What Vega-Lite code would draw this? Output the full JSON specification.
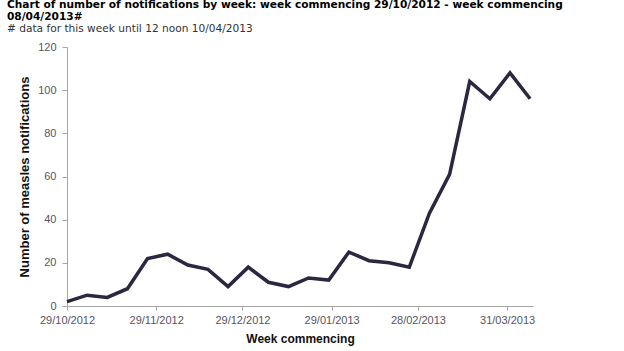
{
  "$schema": "https://vega.github.io/schema/vega-lite/v6.json",
  "autosize": "none",
  "width": 466,
  "height": 259,
  "padding": {"left": 67, "top": 47, "right": 91, "bottom": 45},
  "background": "white",
  "title": {
    "text": ["Chart of number of notifications by week: week commencing 29/10/2012 - week commencing", "08/04/2013#"],
    "subtitle": "# data for this week until 12 noon 10/04/2013",
    "anchor": "start",
    "frame": "group",
    "dx": -60,
    "dy": 2,
    "font": "DejaVu Sans",
    "fontSize": 10.6,
    "fontWeight": "bold",
    "color": "#000000",
    "lineHeight": 12,
    "subtitleFont": "DejaVu Sans",
    "subtitleFontSize": 10.6,
    "subtitleColor": "#333333",
    "subtitlePadding": 2,
    "offset": 8
  },
  "data": {
    "values": [
      {"week": "2012-10-29", "count": 2},
      {"week": "2012-11-05", "count": 5},
      {"week": "2012-11-12", "count": 4},
      {"week": "2012-11-19", "count": 8},
      {"week": "2012-11-26", "count": 22},
      {"week": "2012-12-03", "count": 24},
      {"week": "2012-12-10", "count": 19},
      {"week": "2012-12-17", "count": 17},
      {"week": "2012-12-24", "count": 9},
      {"week": "2012-12-31", "count": 18},
      {"week": "2013-01-07", "count": 11},
      {"week": "2013-01-14", "count": 9},
      {"week": "2013-01-21", "count": 13},
      {"week": "2013-01-28", "count": 12},
      {"week": "2013-02-04", "count": 25},
      {"week": "2013-02-11", "count": 21},
      {"week": "2013-02-18", "count": 20},
      {"week": "2013-02-25", "count": 18},
      {"week": "2013-03-04", "count": 43},
      {"week": "2013-03-11", "count": 61},
      {"week": "2013-03-18", "count": 104},
      {"week": "2013-03-25", "count": 96},
      {"week": "2013-04-01", "count": 108},
      {"week": "2013-04-08", "count": 96}
    ]
  },
  "mark": {"type": "line", "color": "#2d2640", "strokeWidth": 3.5, "strokeJoin": "miter", "clip": false},
  "encoding": {
    "x": {
      "field": "week",
      "type": "temporal",
      "scale": {"type": "utc", "domain": ["2012-10-29", "2013-04-09"]},
      "axis": {
        "title": "Week commencing",
        "values": ["2012-10-29", "2012-11-29", "2012-12-29", "2013-01-29", "2013-02-28", "2013-03-31"],
        "labelExpr": "utcFormat(datum.value, '%d/%m/%Y')",
        "grid": false,
        "domainColor": "#a6a6a6",
        "tickColor": "#a6a6a6",
        "tickSize": 4,
        "labelPadding": 4,
        "labelFont": "Liberation Sans",
        "labelFontSize": 11,
        "labelColor": "#57535f",
        "labelFlush": false,
        "labelOverlap": false,
        "titleFont": "Liberation Sans",
        "titleFontSize": 12,
        "titleFontWeight": "bold",
        "titleColor": "#111111",
        "titlePadding": 8
      }
    },
    "y": {
      "field": "count",
      "type": "quantitative",
      "scale": {"domain": [0, 120], "nice": false},
      "axis": {
        "title": "Number of measles notifications",
        "values": [0, 20, 40, 60, 80, 100, 120],
        "grid": false,
        "domainColor": "#a6a6a6",
        "tickColor": "#a6a6a6",
        "tickSize": 5,
        "labelPadding": 6,
        "labelFont": "Liberation Sans",
        "labelFontSize": 11,
        "labelColor": "#57535f",
        "titleFont": "Liberation Sans",
        "titleFontSize": 13,
        "titleFontWeight": "bold",
        "titleColor": "#111111",
        "titlePadding": 6
      }
    }
  },
  "config": {"view": {"stroke": null}}
}
